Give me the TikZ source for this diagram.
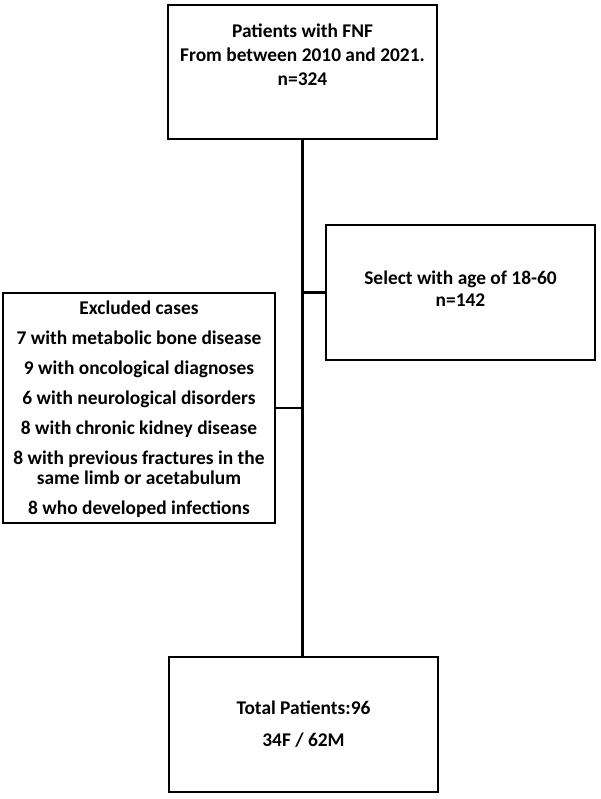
\documentclass[tikz,border=0pt]{standalone}
\usepackage{fontspec}
\setmainfont{Carlito}
\begin{document}
\begin{tikzpicture}[x=1pt,y=-1pt,
  box/.style={draw=black,line width=2.2pt,minimum width=#1,inner sep=0pt},
  txt/.style={font=\bfseries\fontsize{19.4}{20}\selectfont,align=center,inner sep=0pt},
  conn/.style={line width=2.2pt}]
\useasboundingbox[fill=white] (0,0) rectangle (600,799);
% boxes
\node[box=269pt,minimum height=134pt] (top) at (302.5,72) {};
\node[box=269pt,minimum height=135pt] (sel) at (460.5,292.5) {};
\node[box=272pt,minimum height=230pt] (exc) at (139,408) {};
\node[box=269pt,minimum height=135pt] (tot) at (303.5,724.5) {};
% texts
\node[txt,font=\bfseries\fontsize{19.4}{24}\selectfont] (toptxt) at (302.5,54.5) {Patients with FNF\\From between 2010 and 2021.\\n=324};
\node[txt,font=\bfseries\fontsize{19.4}{22}\selectfont] (seltxt) at (460.5,288.5) {Select with age of 18-60\\n=142};
\node[txt] (exctxt) at (139,409) {Excluded cases\\[10pt]
7 with metabolic bone disease\\[10pt]
9 with oncological diagnoses\\[10pt]
6 with neurological disorders\\[10pt]
8 with chronic kidney disease\\[10pt]
8 with previous fractures in the\\
same limb or acetabulum\\[10pt]
8 who developed infections};
\node[txt,font=\bfseries\fontsize{19.4}{32}\selectfont] (tottxt) at (303.5,724.5) {Total Patients:96\\34F / 62M};
% connectors
\coordinate (j1) at (top.south |- sel.west);
\coordinate (j2) at (top.south |- exc.east);
\draw[conn] (top.south) -- (top.south |- tot.north);
\draw[conn] (j1) -- (sel.west);
\draw[conn] (exc.east) -- (j2);
\end{tikzpicture}
\end{document}
